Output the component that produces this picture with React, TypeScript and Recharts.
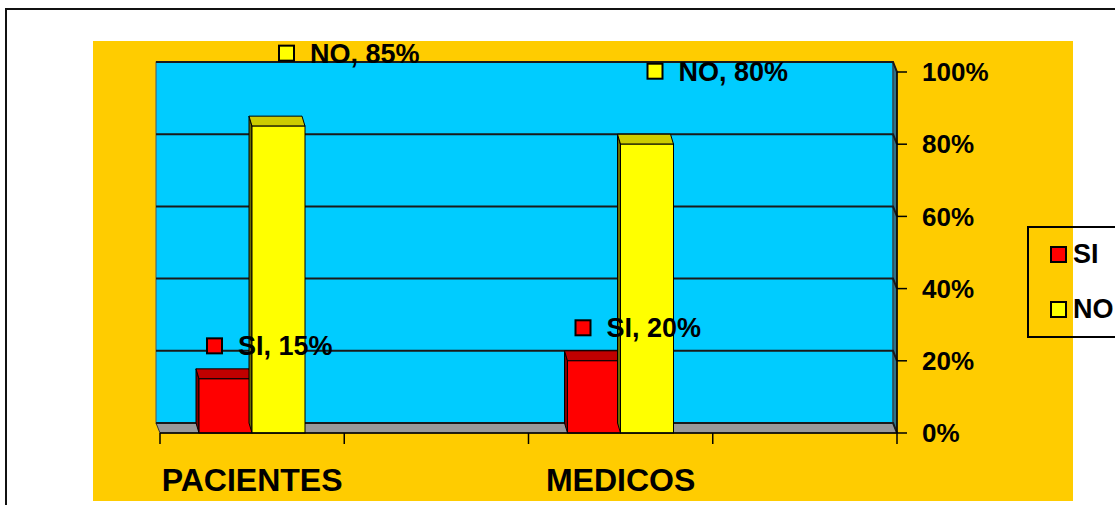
import React from "react";
import { BarChart, Bar, XAxis, YAxis, CartesianGrid, LabelList, Legend } from "recharts";

const categories = ["PACIENTES", "", "MEDICOS", ""];
const siValues = [15, null, 20, null];
const noValues = [85, null, 80, null];
const yTicks = [0, 20, 40, 60, 80, 100];

const series = [
  { key: "SI", values: siValues, fill: "#FF0000", top: "#C00000", side: "#800000" },
  { key: "NO", values: noValues, fill: "#FFFF00", top: "#CCCC00", side: "#6B6B00" },
];

const data = categories.map((name, i) => ({
  name,
  SI: siValues[i],
  NO: noValues[i],
}));

const W = 1115;
const H = 505;
const FONT = "'Liberation Sans', Arial, sans-serif";

// plot box (front plane) and 3d depth shift
const PLOT = { left: 160, top: 72, right: 897, bottom: 433 };
const DX = -4;
const DY = -10;
const BAND = (PLOT.right - PLOT.left) / categories.length;
const Y_AXIS_W = 100;
const X_AXIS_H = 70;

const margin = {
  top: PLOT.top,
  left: PLOT.left,
  right: W - PLOT.right - Y_AXIS_W,
  bottom: H - PLOT.bottom - X_AXIS_H,
};

function Bar3D(props: any) {
  const { x, y, width, height, fill, top, side } = props;
  if (height == null || height <= 0) return null;
  const bx = 3;
  return (
    <g stroke="#000" strokeWidth={1}>
      <polygon
        points={`${x},${y + height} ${x},${y} ${x - bx},${y + DY} ${x - bx},${y + height + DY}`}
        fill={side}
      />
      <polygon
        points={`${x},${y} ${x + width},${y} ${x + width - bx},${y + DY} ${x - bx},${y + DY}`}
        fill={top}
      />
      <rect x={x} y={y} width={width} height={height} fill={fill} />
    </g>
  );
}

function makeLabel(name: string, fill: string, mx: number, my: number) {
  return (props: any) => {
    const { x, y, value } = props;
    if (value == null) return null;
    const cx = x + mx;
    const cy = y + my;
    return (
      <g>
        <rect x={cx} y={cy - 7.5} width={15} height={15} fill={fill} stroke="#000" strokeWidth={2} />
        <text x={cx + 31} y={cy + 9.5} fill="#000" fontSize={27} fontWeight="bold" fontFamily={FONT}>
          {`${name}, ${value}%`}
        </text>
      </g>
    );
  };
}

function CategoryTick(props: any) {
  const { x, y, payload, index } = props;
  const half = BAND / 2;
  return (
    <g>
      <line x1={x - half} y1={y} x2={x - half} y2={y + 11} stroke="#000" strokeWidth={1.5} />
      {index === categories.length - 1 && (
        <line x1={x + half} y1={y} x2={x + half} y2={y + 11} stroke="#000" strokeWidth={1.5} />
      )}
      <text x={x} y={y + 58} textAnchor="middle" fill="#000" fontSize={32} fontWeight="bold" fontFamily={FONT}>
        {payload.value}
      </text>
    </g>
  );
}

function WallLine(props: any) {
  const { x1, y1, x2, y2 } = props;
  return (
    <path
      d={`M${x1 + DX},${y1 + DY} L${x2 + DX},${y2 + DY} L${x2},${y2}`}
      stroke="#1a1a1a"
      strokeWidth={2}
      fill="none"
    />
  );
}

function LegendBox(props: any) {
  const order = series.map((s) => s.key);
  const items = [...(props.payload || [])].sort(
    (a: any, b: any) => order.indexOf(a.value) - order.indexOf(b.value)
  );
  return (
    <div
      style={{
        border: "2px solid #000",
        width: 140,
        height: 112,
        boxSizing: "border-box",
        paddingTop: 3,
        paddingLeft: 21,
        fontFamily: FONT,
      }}
    >
      {items.map((it: any) => (
        <div key={it.value} style={{ display: "flex", alignItems: "center", height: 46, marginBottom: 9 }}>
          <span
            style={{
              display: "inline-block",
              width: 17,
              height: 17,
              boxSizing: "border-box",
              background: it.color,
              border: "2px solid #000",
              marginRight: 6,
            }}
          />
          <span style={{ fontSize: 27, fontWeight: "bold", color: "#000" }}>{it.value}</span>
        </div>
      ))}
    </div>
  );
}

export default function App() {
  return (
    <div style={{ position: "absolute", left: 0, top: 0, width: W, height: H, overflow: "hidden", background: "#fff" }}>
      <svg width={W} height={H} style={{ position: "absolute", left: 0, top: 0 }}>
        <rect x={6} y={9} width={W + 20} height={H + 20} fill="none" stroke="#111" strokeWidth={2} />
        <rect x={93} y={41} width={980} height={460} fill="#FFCC00" />
        <rect
          x={PLOT.left + DX}
          y={PLOT.top + DY}
          width={PLOT.right - PLOT.left}
          height={PLOT.bottom - PLOT.top}
          fill="#00CCFF"
          stroke="#555"
          strokeWidth={1}
        />
        <polygon
          points={`${PLOT.right + DX},${PLOT.top + DY} ${PLOT.right},${PLOT.top} ${PLOT.right},${PLOT.bottom} ${PLOT.right + DX},${PLOT.bottom + DY}`}
          fill="#2f7287"
          stroke="#333"
          strokeWidth={1}
        />
        <polygon
          points={`${PLOT.left},${PLOT.bottom} ${PLOT.left + DX},${PLOT.bottom + DY} ${PLOT.right + DX},${PLOT.bottom + DY} ${PLOT.right},${PLOT.bottom}`}
          fill="#999999"
          stroke="#333"
          strokeWidth={1}
        />
      </svg>
      <div style={{ position: "absolute", left: 0, top: 0 }}>
        <BarChart width={W} height={H} data={data} margin={margin} barGap={0} barSize={53}>
          <CartesianGrid vertical={false} horizontal={(p: any) => <WallLine {...p} />} />
          <XAxis
            dataKey="name"
            interval={0}
            height={X_AXIS_H}
            tickSize={0}
            tickMargin={0}
            tickLine={false}
            axisLine={{ stroke: "#000", strokeWidth: 1.5 }}
            tick={<CategoryTick />}
          />
          <YAxis
            orientation="right"
            width={Y_AXIS_W}
            domain={[0, 100]}
            ticks={yTicks}
            tickFormatter={(v: number) => `${v}%`}
            tickSize={10}
            tickMargin={15}
            axisLine={{ stroke: "#000", strokeWidth: 1.5 }}
            tickLine={{ stroke: "#000", strokeWidth: 1.5 }}
            tick={{ fill: "#000", fontSize: 26, fontWeight: "bold", fontFamily: FONT }}
          />
          <Legend
            layout="horizontal"
            verticalAlign="middle"
            align="center"
            wrapperStyle={{ left: 1027, top: 226, width: 140, height: 112 }}
            content={<LegendBox />}
          />
          {series.map((s) => (
            <Bar
              key={s.key}
              dataKey={s.key}
              name={s.key}
              fill={s.fill}
              isAnimationActive={false}
              shape={(p: any) => <Bar3D {...p} fill={s.fill} top={s.top} side={s.side} />}
            >
              <LabelList
                dataKey={s.key}
                content={s.key === "SI" ? makeLabel("SI", s.fill, 8, -33) : makeLabel("NO", s.fill, 27, -73)}
              />
            </Bar>
          ))}
        </BarChart>
      </div>
    </div>
  );
}
